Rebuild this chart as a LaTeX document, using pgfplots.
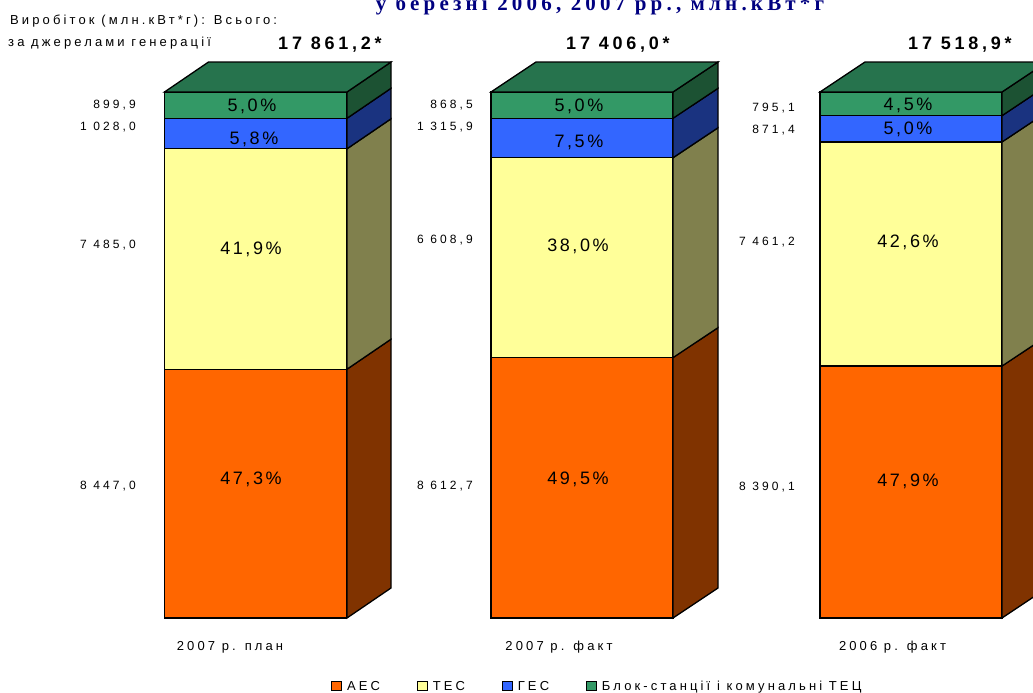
\documentclass[border=0pt]{standalone}
\usepackage{fontspec}
\usepackage{pgfplots}
\pgfplotsset{compat=1.18}
\setmainfont{Liberation Sans}
\newfontfamily\titlefont[LetterSpace=20]{Liberation Serif}
\newfontfamily\wide[LetterSpace=24]{Liberation Sans}
\newfontfamily\val[LetterSpace=26]{Liberation Sans}
\newfontfamily\pct[LetterSpace=14]{Liberation Sans}
\newfontfamily\tot[LetterSpace=21]{Liberation Sans}
\definecolor{aes}{HTML}{FF6600}
\definecolor{tes}{HTML}{FFFF99}
\definecolor{ges}{HTML}{3366FF}
\definecolor{blok}{HTML}{339966}
\definecolor{aesd}{HTML}{803300}
\definecolor{tesd}{HTML}{80804D}
\definecolor{gesd}{HTML}{1A3380}
\definecolor{blokd}{HTML}{1C5233}
\definecolor{blokt}{HTML}{26734D}
\definecolor{navy}{HTML}{000080}
\pgfplotsset{
  chartaxis/.style={
    scale only axis, width=1033pt, height=693pt,
    xmin=0, xmax=1033, ymin=-14.26, ymax=117.49,
    axis line style={draw=none}, tick style={draw=none},
    ytick=\empty, clip=true
  },
  face/.style={fill=#1, draw=black, line width=1.3pt, line join=miter}
}
\newcommand{\lab}[3]{\node at ({#1pt},{693pt-#2pt}) {#3};}
\newcommand{\rlab}[3]{\node[anchor=east, inner sep=0pt] at ({#1pt-2pt},{693pt-#2pt}) {\val\fontsize{12}{14}\selectfont #3};}
\begin{document}
\begin{tikzpicture}
\path[use as bounding box] (0pt,0pt) rectangle (1033pt,693pt);
\clip (0pt,0pt) rectangle (1033pt,693pt);
\begin{axis}[chartaxis, at={(0pt,0pt)}, anchor=south west,
    ybar stacked, bar width=182pt,
    xtick={230,559,892.5},
    xticklabels={2007 р. план, 2007 р. факт, 2006 р. факт},
    x tick label style={yshift=55pt, font=\wide\fontsize{13}{15}\selectfont},
    legend columns=4,
    legend style={draw=none, fill=none, at={(331pt,-1pt)}, anchor=south west,
      inner sep=0pt, font=\wide\fontsize{13}{15}\selectfont,
      /tikz/every odd column/.append style={column sep=3pt},
      /tikz/every even column/.append style={column sep=35pt}},
    legend image code/.code={\draw[#1, line width=0.8pt] (0pt,-4.5pt) rectangle (10pt,4.5pt);},
  ]
  \addplot[face=aes] coordinates {(255.5,47.3) (582,49.5) (911,47.9)};
  \addlegendentry{АЕС}
  \addplot[face=tes] coordinates {(255.5,41.9) (582,38.0) (911,42.6)};
  \addlegendentry{ТЕС}
  \addplot[face=ges] coordinates {(255.5,5.8) (582,7.5) (911,5.0)};
  \addlegendentry{ГЕС}
  \addplot[face=blok] coordinates {(255.5,5.0) (582,5.0) (911,4.5)};
  \addlegendentry{Блок-станції і комунальні ТЕЦ}
\end{axis}
\begin{axis}[chartaxis, at={(0pt,0pt)}, anchor=south west, xtick=\empty]
  % bar 1
  \addplot[face=aesd] coordinates {(347,0) (391,5.7) (391,53) (347,47.3)} -- cycle;
  \addplot[face=tesd] coordinates {(347,47.3) (391,53) (391,94.9) (347,89.2)} -- cycle;
  \addplot[face=gesd] coordinates {(347,89.2) (391,94.9) (391,100.7) (347,95)} -- cycle;
  \addplot[face=blokd] coordinates {(347,95) (391,100.7) (391,105.7) (347,100)} -- cycle;
  \addplot[face=blokt] coordinates {(164.5,100) (208.5,105.7) (391,105.7) (347,100)} -- cycle;
  % bar 2
  \addplot[face=aesd] coordinates {(673,0) (718,5.7) (718,55.2) (673,49.5)} -- cycle;
  \addplot[face=tesd] coordinates {(673,49.5) (718,55.2) (718,93.2) (673,87.5)} -- cycle;
  \addplot[face=gesd] coordinates {(673,87.5) (718,93.2) (718,100.7) (673,95)} -- cycle;
  \addplot[face=blokd] coordinates {(673,95) (718,100.7) (718,105.7) (673,100)} -- cycle;
  \addplot[face=blokt] coordinates {(491,100) (536,105.7) (718,105.7) (673,100)} -- cycle;
  % bar 3, runs off the right edge
  \addplot[face=aesd] coordinates {(1002,0) (1047,5.7) (1047,53.6) (1002,47.9)} -- cycle;
  \addplot[face=tesd] coordinates {(1002,47.9) (1047,53.6) (1047,96.2) (1002,90.5)} -- cycle;
  \addplot[face=gesd] coordinates {(1002,90.5) (1047,96.2) (1047,101.2) (1002,95.5)} -- cycle;
  \addplot[face=blokd] coordinates {(1002,95.5) (1047,101.2) (1047,105.7) (1002,100)} -- cycle;
  \addplot[face=blokt] coordinates {(820,100) (865,105.7) (1047,105.7) (1002,100)} -- cycle;
\end{axis}
% title, cut by the top edge as in the original
\lab{600}{5}{\titlefont\bfseries\color{navy}\fontsize{21}{23}\selectfont у березні 2006, 2007 рр., млн.кВт*г}
\node[anchor=west, inner sep=0pt] at (10pt,{693pt-21pt}) {\wide\fontsize{13}{15}\selectfont Виробіток (млн.кВт*г): Всього:};
\node[anchor=west, inner sep=0pt] at (8pt,{693pt-43pt}) {\wide\fontsize{13}{15}\selectfont за джерелами генерації};
\lab{330}{45}{\tot\bfseries\fontsize{18}{20}\selectfont 17 861,2*}
\lab{618}{45}{\tot\bfseries\fontsize{18}{20}\selectfont 17 406,0*}
\lab{960}{45}{\tot\bfseries\fontsize{18}{20}\selectfont 17 518,9*}
% values left of the bars
\rlab{138}{105}{899,9}
\rlab{138}{127}{1 028,0}
\rlab{138}{245}{7 485,0}
\rlab{138}{486}{8 447,0}
\rlab{475}{105}{868,5}
\rlab{475}{127}{1 315,9}
\rlab{475}{240}{6 608,9}
\rlab{475}{486}{8 612,7}
\rlab{797}{108}{795,1}
\rlab{797}{130}{871,4}
\rlab{797}{242}{7 461,2}
\rlab{797}{487}{8 390,1}
% shares inside the bars
\newcommand{\pc}[3]{\lab{#1}{#2}{\pct\fontsize{18}{20}\selectfont #3}}
\pc{252}{106}{5,0\%}
\pc{254}{139}{5,8\%}
\pc{251}{249}{41,9\%}
\pc{251}{479}{47,3\%}
\pc{579}{106}{5,0\%}
\pc{579}{142}{7,5\%}
\pc{578}{246}{38,0\%}
\pc{578}{479}{49,5\%}
\pc{908}{105}{4,5\%}
\pc{908}{129}{5,0\%}
\pc{908}{242}{42,6\%}
\pc{908}{481}{47,9\%}
\end{tikzpicture}
\end{document}
